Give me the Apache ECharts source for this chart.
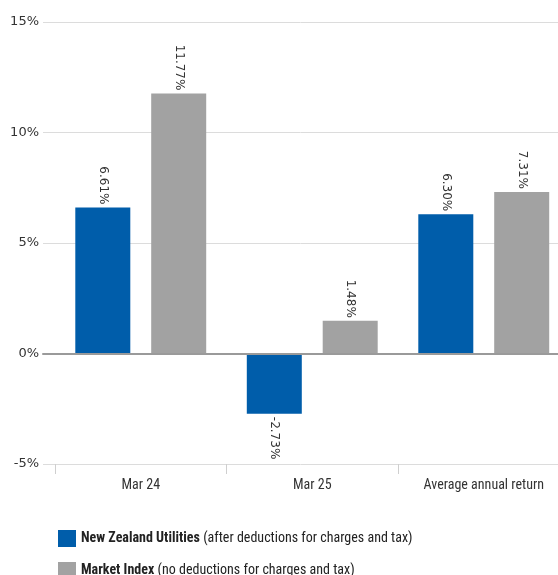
<!DOCTYPE html>
<html><head><meta charset="utf-8">
<script src="https://cdn.jsdelivr.net/npm/echarts@6/dist/echarts.min.js"></script>
<style>html,body{margin:0;padding:0;background:#fff}#c{width:558px;height:575px}</style>
</head><body><div id="c"></div>
<script>
var categories = ['Mar 24', 'Mar 25', 'Average annual return'];
var utilitiesValues = [6.61, -2.73, 6.30];
var marketValues = [11.77, 1.48, 7.31];
var utilitiesName = 'New Zealand Utilities';
var utilitiesNote = '(after deductions for charges and tax)';
var marketName = 'Market Index';
var marketNote = '(no deductions for charges and tax)';
var yTicks = [-5, 0, 5, 10, 15];

var BLUE = '#005DAA', GRAY = '#A2A2A2';
var condensed = '"Roboto Condensed", "Noto Sans Condensed", "DejaVu Sans Condensed", sans-serif';

function fmt(v){ return v.toFixed(2) + '%'; }
function buildData(vals){
  return vals.map(function(v){
    return {
      value: v,
      label: v >= 0
        ? { position: 'top', align: 'right', verticalAlign: 'middle', rotate: -90, distance: 3 }
        : { position: 'bottom', align: 'left', verticalAlign: 'middle', rotate: -90, distance: 3 }
    };
  });
}
var labelStyle = { show: true, formatter: function(p){ return fmt(p.value); }, color: '#333', fontFamily: 'DejaVu Sans', fontSize: 12 };

function legendFor(name, note, top){
  return {
    orient: 'horizontal', left: 58, top: top, padding: 0, itemWidth: 18, itemHeight: 17,
    icon: 'rect', selectedMode: false, data: [name],
    formatter: function(n){ return '{b|' + n + '} {n|' + note + '}'; },
    textStyle: {
      color: '#222',
      rich: {
        b: { fontFamily: condensed, fontWeight: 'bold', fontSize: 14, color: '#222' },
        n: { fontFamily: condensed, fontSize: 14, color: '#222' }
      }
    }
  };
}

var chart = echarts.init(document.getElementById('c'), null, { renderer: 'canvas' });
chart.setOption({
  animation: false,
  grid: [
    { left: 43, right: 0, top: 22, bottom: 111 },
    { left: 55, right: -11.5, top: 22, bottom: 111, outerBoundsMode: 'none' }
  ],
  xAxis: [
    { gridIndex: 0, type: 'value', min: 0, max: 1, axisLabel: { show: false }, axisTick: { show: false }, splitLine: { show: false },
      axisLine: { show: true, onZero: true, lineStyle: { color: '#9a9a9a', width: 2 } }, z: 3 },
    { gridIndex: 1, type: 'category', data: categories, position: 'bottom',
      axisLine: { show: false, onZero: false },
      axisTick: { show: true, length: 10, alignWithLabel: false, lineStyle: { color: '#cfcfcf', width: 1 } },
      axisLabel: { interval: 0, color: '#333', fontFamily: condensed, fontSize: 14, margin: 14 } }
  ],
  yAxis: [
    { gridIndex: 0, type: 'value', min: yTicks[0], max: yTicks[yTicks.length-1], interval: 5,
      axisLine: { show: false }, axisTick: { show: false },
      axisLabel: { formatter: '{value}%', color: '#333', fontFamily: 'DejaVu Sans', fontSize: 13, margin: 4 },
      splitLine: { show: true, lineStyle: { color: '#dcdcdc', width: 1 } } },
    { gridIndex: 1, type: 'value', min: yTicks[0], max: yTicks[yTicks.length-1], interval: 5,
      axisLine: { show: false }, axisTick: { show: false }, axisLabel: { show: false }, splitLine: { show: false } }
  ],
  legend: [legendFor(utilitiesName, utilitiesNote, 530), legendFor(marketName, marketNote, 562)],
  series: [
    { name: utilitiesName, type: 'bar', xAxisIndex: 1, yAxisIndex: 1, data: buildData(utilitiesValues),
      barWidth: 55, barGap: '38%', itemStyle: { color: BLUE }, label: labelStyle },
    { name: marketName, type: 'bar', xAxisIndex: 1, yAxisIndex: 1, data: buildData(marketValues),
      barWidth: 55, barGap: '38%', itemStyle: { color: GRAY }, label: labelStyle }
  ]
});
</script></body></html>
